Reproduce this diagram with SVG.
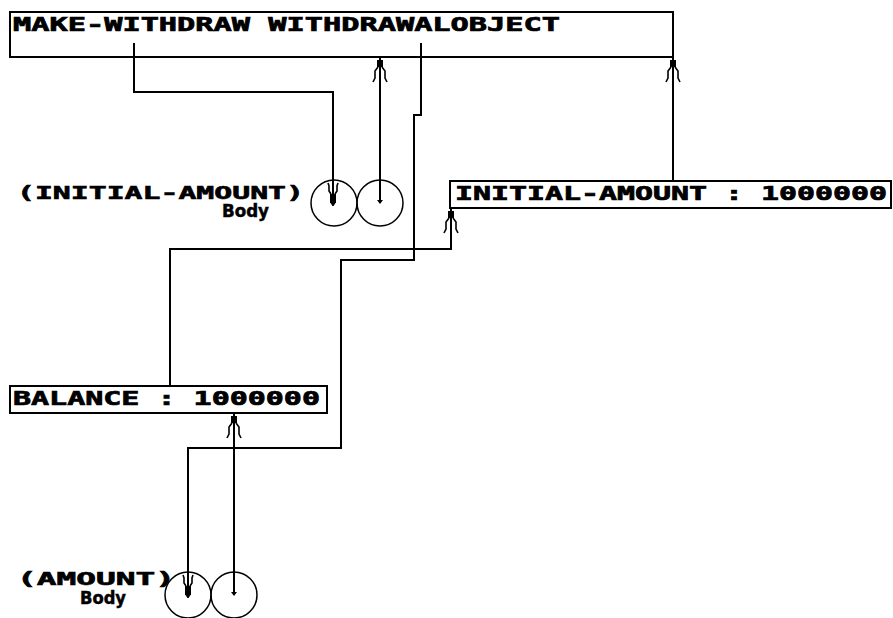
<svg xmlns="http://www.w3.org/2000/svg" xmlns:xlink="http://www.w3.org/1999/xlink" width="893" height="618" viewBox="0 0 893 618">
<style>
.box{fill:#fff;stroke:#000;stroke-width:2}
.cir{fill:none;stroke:#000;stroke-width:1.5}
.ln{fill:none;stroke:#000;stroke-width:2}
.cap{font-family:"DejaVu Sans Mono","Liberation Mono",monospace;font-weight:bold;fill:#000;stroke:#000;stroke-width:0.7}
.lbl{font-family:"DejaVu Sans Mono","Liberation Mono",monospace;font-weight:bold;fill:#000;stroke:#000;stroke-width:0.6;font-size:17.5px}
.body{font-family:"DejaVu Sans","Liberation Sans",sans-serif;font-weight:bold;fill:#000;stroke:#000;stroke-width:0.5;font-size:17.5px}
</style>
<defs>
<g id="forkUp">
<rect x="-3" y="3" width="6" height="7" fill="#000"/>
<path d="M-2,10 L-5,14 V21 L-7,25 M2,10 L5,14 V21 L7,25" fill="none" stroke="#000" stroke-width="1.6"/>
</g>
<g id="forkDown">
<rect x="-3" y="-11" width="6" height="9" fill="#000"/>
<path d="M-2,-2 L0,1 L2,-2 Z" fill="#000" stroke="#000" stroke-width="1"/>
<path d="M-2,-11 L-4,-14 V-19 L-5,-22 M2,-11 L4,-14 V-19 L5,-22" fill="none" stroke="#000" stroke-width="1.6"/>
</g>
<path id="dot" d="M-3,-3 L3,-3 L0,1 Z" fill="#000"/>
</defs>

<g id="node-make-withdraw">
<rect class="box" x="10" y="12" width="663" height="45"/>
<text class="cap" x="13" y="31" font-size="19" textLength="547" lengthAdjust="spacingAndGlyphs">MAKE-WITHDRAW WITHDRAWALOBJECT</text>
</g>

<g id="node-initial-amount">
<rect class="box" x="450" y="181" width="441" height="27"/>
<text class="cap" x="455" y="200" font-size="19" textLength="432" lengthAdjust="spacingAndGlyphs">INITIAL-AMOUNT : 1000000</text>
</g>

<g id="node-balance">
<rect class="box" x="10" y="386" width="317" height="27"/>
<text class="cap" x="13" y="405" font-size="19" textLength="307" lengthAdjust="spacingAndGlyphs">BALANCE : 1000000</text>
</g>

<g id="node-proc1">
<circle class="cir" cx="334" cy="203" r="23"/>
<circle class="cir" cx="380" cy="203" r="23"/>
<text class="lbl" x="17" y="199" textLength="287" lengthAdjust="spacingAndGlyphs">(INITIAL-AMOUNT)</text>
<text class="body" x="222" y="217" textLength="47" lengthAdjust="spacingAndGlyphs">Body</text>
</g>

<g id="node-proc2">
<circle class="cir" cx="188" cy="595" r="23"/>
<circle class="cir" cx="234" cy="595" r="23"/>
<text class="lbl" x="17" y="585" textLength="158" lengthAdjust="spacingAndGlyphs">(AMOUNT)</text>
<text class="body" x="80" y="604" textLength="46" lengthAdjust="spacingAndGlyphs">Body</text>
</g>

<g id="connectors">
<path class="ln" d="M134,43 V92 H333 V203"/>
<use xlink:href="#forkDown" x="333" y="205"/>

<path class="ln" d="M380,203 V58"/>
<use xlink:href="#forkUp" x="380" y="57"/>
<use xlink:href="#dot" x="380" y="203"/>

<path class="ln" d="M421,43 V115 H414 V260 H341 V448 H188 V595"/>
<use xlink:href="#forkDown" x="188" y="597"/>

<path class="ln" d="M170,386 V249 H451 V209"/>
<use xlink:href="#forkUp" x="451" y="208"/>

<path class="ln" d="M673,181 V58"/>
<use xlink:href="#forkUp" x="673" y="57"/>

<path class="ln" d="M234,595 V414"/>
<use xlink:href="#forkUp" x="234" y="413"/>
<use xlink:href="#dot" x="234" y="595"/>
</g>
</svg>
